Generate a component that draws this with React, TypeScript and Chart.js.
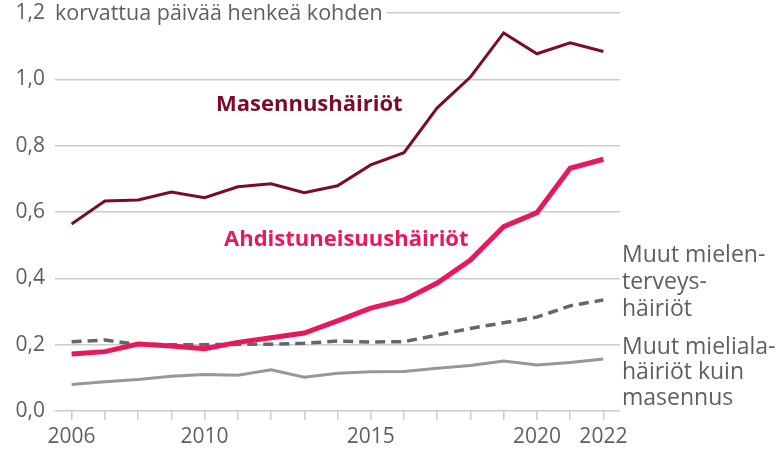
import React, { useEffect, useRef } from "react";
import { Chart, registerables } from "chart.js";

Chart.register(...registerables);

const years = ["2006","2007","2008","2009","2010","2011","2012","2013","2014","2015","2016","2017","2018","2019","2020","2021","2022"];
const shownYears = ["2006", "2010", "2015", "2020", "2022"];
const yTicks = [0, 0.2, 0.4, 0.6, 0.8, 1.0, 1.2];

const masennus = [0.564, 0.633, 0.636, 0.66, 0.643, 0.676, 0.685, 0.658, 0.679, 0.742, 0.779, 0.914, 1.007, 1.14, 1.077, 1.11, 1.084];
const ahdistus = [0.172, 0.179, 0.202, 0.196, 0.188, 0.207, 0.221, 0.235, 0.272, 0.31, 0.335, 0.386, 0.455, 0.556, 0.598, 0.732, 0.759];
const muutMielenterveys = [0.209, 0.214, 0.201, 0.2, 0.2, 0.201, 0.201, 0.204, 0.211, 0.208, 0.209, 0.229, 0.249, 0.266, 0.283, 0.317, 0.335];
const muutMieliala = [0.08, 0.088, 0.095, 0.105, 0.11, 0.108, 0.124, 0.102, 0.114, 0.118, 0.119, 0.129, 0.137, 0.151, 0.139, 0.146, 0.157];

const unitLabel = "korvattua päivää henkeä kohden";
const labelMasennus = "Masennushäiriöt";
const labelAhdistus = "Ahdistuneisuushäiriöt";
const labelMuut1 = ["Muut mielen-", "terveys-", "häiriöt"];
const labelMuut2 = ["Muut mieliala-", "häiriöt kuin", "masennus"];

const FONT = "'Open Sans', 'Noto Sans', sans-serif";
const TEXT = "#5f5f5f";
const RED = "#7c0b27";
const PINK = "#e8185c";

const labelsPlugin = {
  id: "labels",
  afterDraw(chart: any) {
    const { ctx, chartArea, scales } = chart;
    const y = scales.y;
    ctx.save();
    ctx.font = `21.5px ${FONT}`;
    const topY = y.getPixelForValue(1.2);
    const w = ctx.measureText(unitLabel).width;
    ctx.fillStyle = "#fff";
    ctx.fillRect(chartArea.left - 2, topY - 12, w + 6, 24);
    ctx.fillStyle = TEXT;
    ctx.textBaseline = "middle";
    ctx.textAlign = "left";
    ctx.fillText(unitLabel, chartArea.left, topY + 1);

    ctx.textBaseline = "alphabetic";
    ctx.font = `bold 22px ${FONT}`;
    ctx.fillStyle = RED;
    ctx.fillText(labelMasennus, 216, 111);
    ctx.fillStyle = PINK;
    ctx.fillText(labelAhdistus, 224, 246);

    ctx.font = `23px ${FONT}`;
    ctx.fillStyle = TEXT;
    ctx.textBaseline = "middle";
    const x = chartArea.right + 2;
    labelMuut1.forEach((t, i) => ctx.fillText(t, x, 255 + i * 27));
    labelMuut2.forEach((t, i) => ctx.fillText(t, x, 347 + i * 25.5));
    ctx.restore();
  },
};

export default function App() {
  const ref = useRef<HTMLCanvasElement>(null);
  useEffect(() => {
    if (!ref.current) return;
    const chart = new Chart(ref.current, {
      type: "line",
      data: {
        labels: years,
        datasets: [
          { data: masennus, borderColor: RED, borderWidth: 3, pointRadius: 0, tension: 0 },
          { data: ahdistus, borderColor: PINK, borderWidth: 5, pointRadius: 0, tension: 0 },
          { data: muutMielenterveys, borderColor: "#666666", borderWidth: 3.5, borderDash: [10, 6], pointRadius: 0, tension: 0 },
          { data: muutMieliala, borderColor: "#979797", borderWidth: 3, pointRadius: 0, tension: 0 },
        ],
      },
      options: {
        animation: false,
        responsive: false,
        maintainAspectRatio: false,
        layout: { padding: { top: 13, right: 158, left: 0, bottom: 0 } },
        plugins: { legend: { display: false }, tooltip: { enabled: false } },
        scales: {
          x: {
            type: "category",
            offset: true,
            border: { display: false },
            grid: { drawOnChartArea: false, drawTicks: true, tickLength: 9, color: "#cccccc", lineWidth: 1.5, offset: false },
            ticks: {
              autoSkip: false,
              maxRotation: 0,
              padding: 4,
              color: TEXT,
              font: { family: FONT, size: 21 },
              callback: (v: any, i: number) => (shownYears.includes(years[i]) ? years[i] : ""),
            },
            afterFit: (s: any) => { s.height = 39; s.paddingLeft = 0; s.paddingRight = 0; },
          },
          y: {
            min: 0,
            max: 1.2,
            border: { display: false },
            afterBuildTicks: (s: any) => { s.ticks = yTicks.map((v) => ({ value: v })); },
            grid: { drawTicks: false, color: "#cccccc", lineWidth: 1.5 },
            ticks: {
              padding: 10,
              color: TEXT,
              font: { family: FONT, size: 21 },
              callback: (v: any) => Number(v).toFixed(1).replace(".", ","),
            },
            afterFit: (s: any) => { s.width = 55; s.paddingTop = 0; s.paddingBottom = 0; },
          },
        },
      },
      plugins: [labelsPlugin],
    });
    return () => chart.destroy();
  }, []);
  return (
    <div style={{ position: "fixed", left: 0, top: 0, width: 778, height: 450, background: "#fff" }}>
      <canvas ref={ref} width={778} height={450} style={{ width: 778, height: 450 }} />
    </div>
  );
}
